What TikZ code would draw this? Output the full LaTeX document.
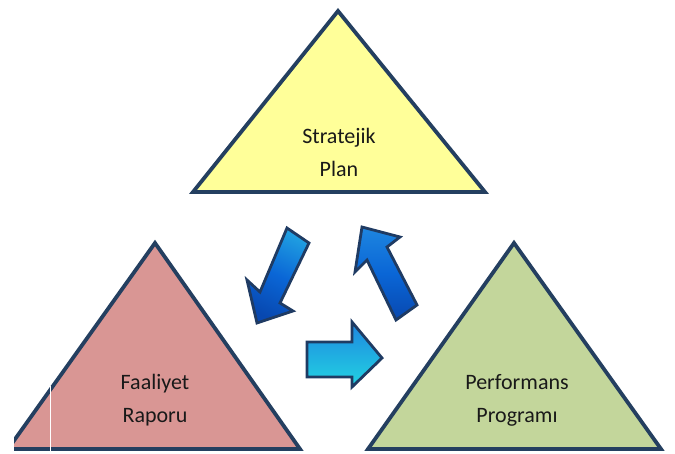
\documentclass[tikz,border=0pt]{standalone}
\usepackage{fontspec}
\setmainfont{Carlito}
\definecolor{edgeblue}{HTML}{243F60}
\definecolor{yel}{HTML}{FFFF99}
\definecolor{rose}{HTML}{D99694}
\definecolor{olivegreen}{HTML}{C3D69B}
\definecolor{arrowedge}{HTML}{1F3B63}
\definecolor{darkblue}{HTML}{0848B0}
\definecolor{midblue}{HTML}{0A66D6}
\definecolor{lightcyan}{HTML}{22D4E2}
\definecolor{skyblue}{HTML}{1E86E0}
\tikzset{
  tri/.style={draw=edgeblue, line width=3.8pt, line join=miter},
  blockarrow/.style={draw=arrowedge, line width=2.8pt, line join=miter},
  label/.style={align=center, text=black!90, font=\fontsize{22}{33}\selectfont, inner sep=0pt}
}
\begin{document}
\begin{tikzpicture}[x=1pt,y=-1pt]
\useasboundingbox (0,0) rectangle (675,453);
% top triangle
\draw[tri, fill=yel] (338,11) -- (485,192) -- (193,192) -- cycle;
% left triangle (clipped at left)
\begin{scope}
\clip (14,0) rectangle (675,453);
\draw[tri, fill=rose] (155,243) -- (300,449) -- (8,449) -- cycle;
\end{scope}
\draw[white, line width=1pt] (50.5,386) -- (50.5,453);
% right triangle
\draw[tri, fill=olivegreen] (514,243) -- (661,449) -- (368,449) -- cycle;
% labels
\node[label] (sp) at (339,152) {Stratejik\\Plan};
\node[label] (fr) at (155,400) {Faaliyet\\Raporu};
\node[label] (pp) at (517,400) {Performans\\Programı};
% arrow 1: down-left
\draw[blockarrow, left color=skyblue!70!lightcyan, right color=darkblue, middle color=midblue, shading angle=-25]
  (287,228) -- (309,243) -- (280,303) -- (293,311) -- (257,323) -- (247,280) -- (260,292) -- cycle;
% arrow 2: up-left
\draw[blockarrow, top color=skyblue, bottom color=darkblue, middle color=midblue]
  (362,227) -- (400,237) -- (387,247) -- (417,305) -- (396,320) -- (367,260) -- (355,272) -- cycle;
% arrow 3: right
\draw[blockarrow, top color=skyblue, bottom color=lightcyan]
  (307,342) -- (352,342) -- (352,322) -- (382,358) -- (352,387) -- (352,377) -- (307,377) -- cycle;
\end{tikzpicture}
\end{document}
